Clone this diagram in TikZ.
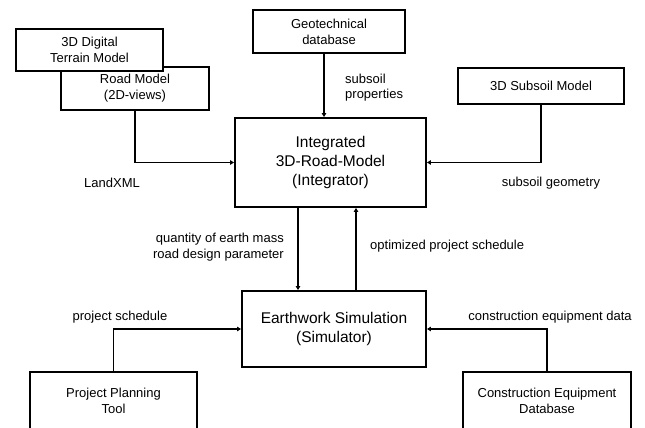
\documentclass[tikz,border=0pt]{standalone}
\usepackage{fontspec}
\setmainfont{Liberation Sans}
\usetikzlibrary{arrows.meta, positioning}
\tikzset{
  % blocks of the scheme
  block/.style={draw=black, line width=1.9pt, fill=white, align=center, inner sep=2pt,
    font=\fontsize{13}{16}\selectfont},
  bigblock/.style={block, font=\fontsize{15.5}{19}\selectfont},
  % data flows between blocks
  flow/.style={line width=1.7pt, -{Triangle[length=4pt, width=4.5pt]}},
  % labels on the flows
  lbl/.style={font=\fontsize{13}{15.5}\selectfont, align=left, inner sep=0pt},
}

\begin{document}
\begin{tikzpicture}[x=1pt, y=1pt]
  \useasboundingbox (0,0) rectangle (645,428);
  \clip (0,0) rectangle (645,428);
  % models feeding the integrator
  \node[block, minimum width=148pt, minimum height=43pt] (road) at (135,339.5) {Road Model\\(2D-views)};
  \node[block, minimum width=147pt, minimum height=42pt] (terrain) at (89.5,378) {3D Digital\\Terrain Model};
  \node[block, minimum width=152pt, minimum height=43pt] (geo) at (329,396.5) {Geotechnical\\database};
  \node[block, minimum width=166pt, minimum height=36pt] (subsoil) at (541,342) {3D Subsoil Model};
  % integrator and simulator
  \node[bigblock, minimum width=191pt, minimum height=89pt] (integ) at (330.5,265.5) {Integrated\\3D-Road-Model\\(Integrator)};
  \node[bigblock, minimum width=184pt, minimum height=76pt] (earth) at (334,99) {Earthwork Simulation\\(Simulator)};
  % tools feeding the simulator
  \node[block, minimum width=167pt, minimum height=58pt] (plan) at (113.5,27) {Project Planning\\Tool};
  \node[block, minimum width=168pt, minimum height=58pt] (equip) at (547,27) {Construction Equipment\\Database};

  \draw[flow] (road.south) |- (integ.west);
  \draw[flow] (subsoil.south) |- (integ.east);
  \draw[flow] ([xshift=-5pt]geo.south) -- ([xshift=-5pt]geo.south |- integ.north);
  \draw[flow] ([xshift=-32.5pt]integ.south) -- ([xshift=-32.5pt]integ.south |- earth.north);
  \draw[flow] ([xshift=25.5pt]integ.south |- earth.north) -- ([xshift=25.5pt]integ.south);
  \draw[flow] (plan.north) |- (earth.west);
  \draw[flow] (equip.north) |- (earth.east);

  \node[lbl] (landxml) at (112,245) {LandXML};
  \node[lbl] (geometry) at (551,245) {subsoil geometry};
  \node[lbl, anchor=west] (properties) at (345,340.5) {subsoil\\properties};
  \node[lbl, anchor=east, align=right] (quantity) at (284,181) {quantity of earth mass\\road design parameter};
  \node[lbl, anchor=west] (optimized) at (370,182) {optimized project schedule};
  \node[lbl] (schedule) at (120,111) {project schedule};
  \node[lbl] (equipdata) at (550,111) {construction equipment data};
\end{tikzpicture}
\end{document}
